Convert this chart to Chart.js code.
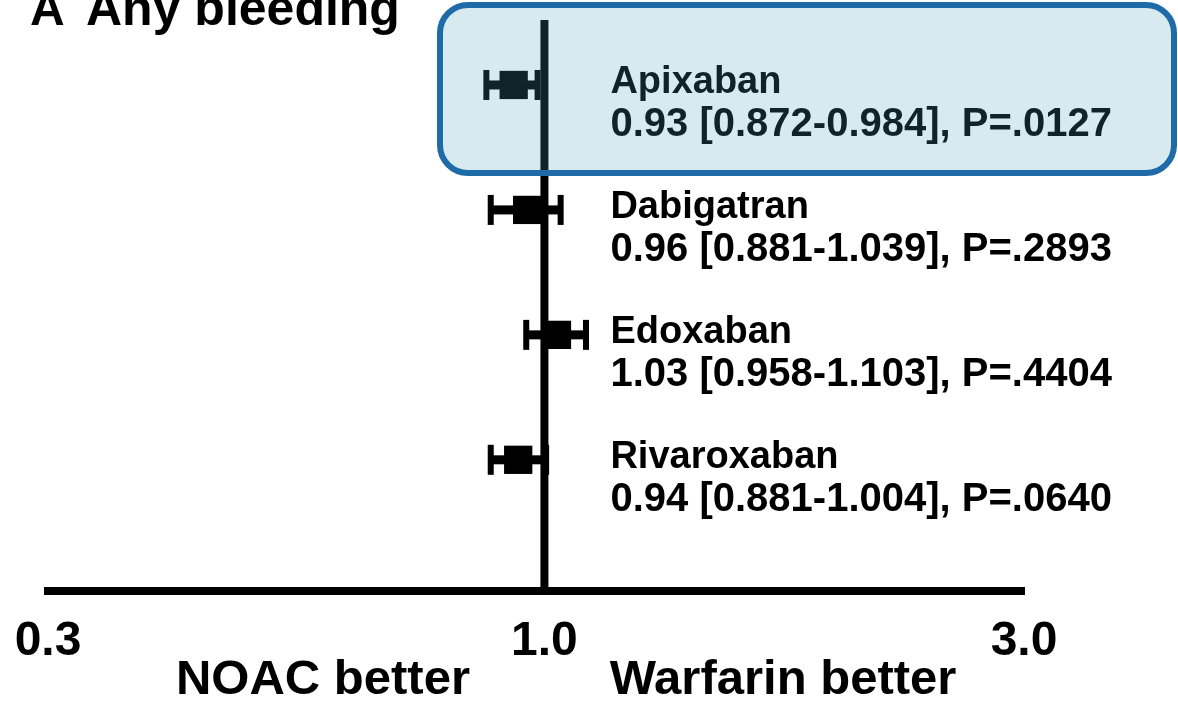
<!DOCTYPE html>
<html>
<head>
<meta charset="utf-8">
<script src="https://cdn.jsdelivr.net/npm/chart.js@4"></script>
<style>
  html, body { margin: 0; padding: 0; background: #fff; }
  #wrap { width: 1178px; height: 707px; }
</style>
</head>
<body>
<div id="wrap"><canvas id="forestChart" width="1178" height="707"></canvas></div>
<script>
// Forest plot data (hazard ratio with 95% CI)
const drugs = ['Apixaban', 'Dabigatran', 'Edoxaban', 'Rivaroxaban'];
const ratios = [0.93, 0.96, 1.03, 0.94];
const lowerCI = [0.872, 0.881, 0.958, 0.881];
const upperCI = [0.984, 1.039, 1.103, 1.004];
const pValues = ['.0127', '.2893', '.4404', '.0640'];
const rowPos = [4, 3, 2, 1];
const tickValues = [0.31, 1, 3.1];
const tickLabels = ['0.3', '1.0', '3.0'];

const FONT = '"Liberation Sans", Arial, Helvetica, sans-serif';

// error bars with caps
const errorBars = {
    id: 'errorBars',
    beforeDatasetsDraw(chart) {
        const x = chart.scales.x, y = chart.scales.y, ctx = chart.ctx;
        ctx.save();
        ctx.fillStyle = '#000';
        drugs.forEach((d, i) => {
            const yp = y.getPixelForValue(rowPos[i]);
            const x1 = x.getPixelForValue(lowerCI[i]);
            const x2 = x.getPixelForValue(upperCI[i]);
            ctx.fillRect(x1, yp - 4.5, x2 - x1, 9);
            ctx.fillRect(x1 - 3, yp - 15, 6, 30);
            ctx.fillRect(x2 - 3, yp - 15, 6, 30);
        });
        ctx.restore();
    }
};

// labels, title, and the highlight box
const annotations = {
    id: 'annotations',
    afterDraw(chart) {
        const x = chart.scales.x, y = chart.scales.y, ctx = chart.ctx;
        ctx.save();
        ctx.fillStyle = '#000';
        ctx.textBaseline = 'alphabetic';
        ctx.textAlign = 'left';

        const tx = x.getPixelForValue(1) + 66;
        drugs.forEach((d, i) => {
            const yp = y.getPixelForValue(rowPos[i]);
            ctx.font = 'bold 38px ' + FONT;
            ctx.fillText(d, tx, yp + 8);
            const line = ratios[i].toFixed(2) + ' [' + lowerCI[i].toFixed(3) + '-' +
                upperCI[i].toFixed(3) + '], P=' + pValues[i];
            ctx.font = 'bold 40px ' + FONT;
            ctx.fillText(line, tx, yp + 51);
        });

        // panel title
        ctx.font = 'bold 48px ' + FONT;
        ctx.fillText('A', 30, 25);
        ctx.font = 'bold 50px ' + FONT;
        ctx.fillText('Any bleeding', 86, 25);

        // direction labels
        ctx.font = 'bold 49px ' + FONT;
        ctx.textAlign = 'center';
        ctx.fillText('NOAC better', 323, 694);
        ctx.fillText('Warfarin better', 783, 694);

        // highlight box around Apixaban
        ctx.beginPath();
        ctx.roundRect(440, 5, 734, 168, 28);
        ctx.fillStyle = 'rgba(68, 160, 185, 0.22)';
        ctx.fill();
        ctx.lineWidth = 6;
        ctx.strokeStyle = '#1f6ba8';
        ctx.stroke();
        ctx.restore();
    }
};

const ctx = document.getElementById('forestChart').getContext('2d');
const forestChart = new Chart(ctx, {
    type: 'scatter',
    data: {
        datasets: [{
            type: 'line',
            label: 'No effect',
            data: [{ x: 1, y: -0.05 }, { x: 1, y: 4.52 }],
            borderColor: '#000',
            borderWidth: 8,
            pointRadius: 0
        }, {
            label: 'Hazard ratio',
            data: drugs.map((d, i) => ({ x: ratios[i], y: rowPos[i] })),
            pointStyle: 'rect',
            pointRadius: 20,
            pointHoverRadius: 20,
            backgroundColor: '#000',
            borderColor: '#000',
            borderWidth: 0
        }]
    },
    options: {
        responsive: false,
        animation: false,
        events: [],
        layout: { padding: { left: 48, right: 154, top: 20, bottom: 36 } },
        plugins: {
            legend: { display: false },
            tooltip: { enabled: false }
        },
        scales: {
            x: {
                type: 'logarithmic',
                bounds: 'data',
                min: tickValues[0],
                max: tickValues[tickValues.length - 1],
                afterBuildTicks: (scale) => {
                    scale.ticks = tickValues.map(v => ({ value: v }));
                },
                afterDataLimits: (scale) => {
                    scale.min = tickValues[0];
                    scale.max = tickValues[tickValues.length - 1];
                },
                afterFit: (scale) => {
                    scale.paddingLeft = 0;
                    scale.paddingRight = 0;
                    scale.height = 80;
                },
                grid: { display: false, drawTicks: false },
                border: { display: true, color: '#000', width: 8 },
                ticks: {
                    autoSkip: false,
                    maxRotation: 0,
                    padding: 22,
                    color: '#000',
                    font: { family: FONT, size: 48, weight: 'bold' },
                    callback: (value, index) => tickLabels[index]
                }
            },
            y: {
                type: 'linear',
                min: -0.05,
                max: 4.52,
                display: false
            }
        }
    },
    plugins: [errorBars, annotations]
});
</script>
</body>
</html>
